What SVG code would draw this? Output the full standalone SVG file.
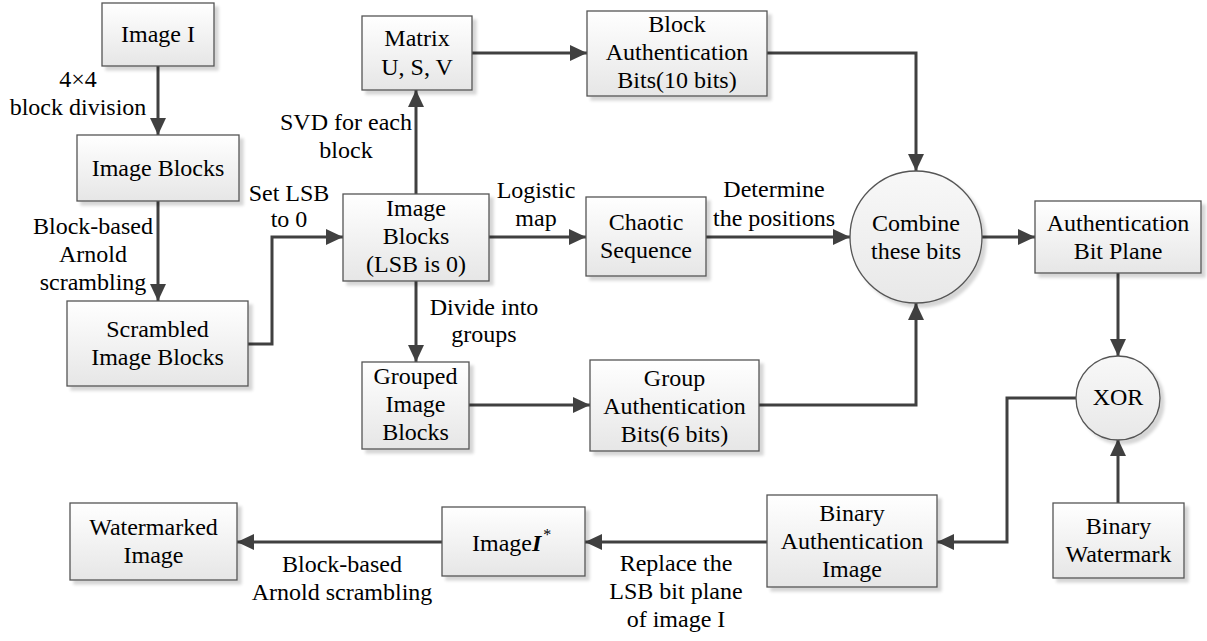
<svg xmlns="http://www.w3.org/2000/svg" width="1207" height="641" viewBox="0 0 1207 641">
<defs>
<linearGradient id="g" x1="0" y1="0" x2="0" y2="1">
<stop offset="0" stop-color="#ffffff"/>
<stop offset="1" stop-color="#e6e6e6"/>
</linearGradient>
<linearGradient id="gc" x1="0" y1="0" x2="0" y2="1">
<stop offset="0" stop-color="#f8f8f8"/>
<stop offset="1" stop-color="#e8e8e8"/>
</linearGradient>
<filter id="sh" x="-10%" y="-10%" width="130%" height="130%">
<feDropShadow dx="4" dy="4" stdDeviation="1.5" flood-color="#000" flood-opacity="0.16"/>
</filter>
<marker id="ar" markerUnits="userSpaceOnUse" markerWidth="18" markerHeight="18" refX="17" refY="8" orient="auto">
<path d="M0,0 L17,8 L0,16 z" fill="#404040"/>
</marker>
</defs>
<style>
.box{fill:url(#g);stroke:#555;stroke-width:1.3;filter:url(#sh)}
.cir{fill:url(#gc);stroke:#555;stroke-width:1.3;filter:url(#sh)}
.t{font-family:'Liberation Serif',Tinos,'Times New Roman',Times,'DejaVu Serif',serif;font-size:24px;fill:#000;text-anchor:middle}
.c{fill:none;stroke:#404040;stroke-width:3;marker-end:url(#ar)}
</style>
<g font-family="Liberation Serif, Tinos, Times New Roman, DejaVu Serif, serif">

<g id="connectors">
<path class="c" d="M158,66 V135"/>
<path class="c" d="M158,201 V301"/>
<path class="c" d="M248,344 H272 V237 H343"/>
<path class="c" d="M416,194 V90"/>
<path class="c" d="M472,53 H587"/>
<path class="c" d="M767,53 H916 V171"/>
<path class="c" d="M489,237 H586"/>
<path class="c" d="M706,237 H850"/>
<path class="c" d="M416,281 V362"/>
<path class="c" d="M469,405 H590"/>
<path class="c" d="M759,405 H916 V303"/>
<path class="c" d="M982,237 H1035"/>
<path class="c" d="M1118,273 V356"/>
<path class="c" d="M1118,503 V439"/>
<path class="c" d="M1076,398 H1007 V542 H937"/>
<path class="c" d="M767,542 H585"/>
<path class="c" d="M442,542 H237"/>
</g>

<g id="labels">
<text class="t" x="78" y="87">4×4</text>
<text class="t" x="78" y="115">block division</text>
<text class="t" x="93" y="234">Block-based</text>
<text class="t" x="93" y="262">Arnold</text>
<text class="t" x="93" y="290">scrambling</text>
<text class="t" x="289" y="201">Set LSB</text>
<text class="t" x="289" y="227">to 0</text>
<text class="t" x="346" y="130">SVD for each</text>
<text class="t" x="346" y="158">block</text>
<text class="t" x="536" y="198">Logistic</text>
<text class="t" x="536" y="226">map</text>
<text class="t" x="774" y="197">Determine</text>
<text class="t" x="774" y="226">the positions</text>
<text class="t" x="484" y="315">Divide into</text>
<text class="t" x="484" y="342">groups</text>
<text class="t" x="342" y="572">Block-based</text>
<text class="t" x="342" y="600">Arnold scrambling</text>
<text class="t" x="676" y="571">Replace the</text>
<text class="t" x="676" y="599">LSB bit plane</text>
<text class="t" x="676" y="627">of image I</text>
</g>

<g id="n-image-i">
<rect class="box" x="102" y="3" width="112" height="63"/>
<text class="t" x="158" y="42">Image I</text>
</g>
<g id="n-image-blocks">
<rect class="box" x="77" y="135" width="162" height="66"/>
<text class="t" x="158" y="176">Image Blocks</text>
</g>
<g id="n-scrambled">
<rect class="box" x="67" y="301" width="181" height="85"/>
<text class="t" x="157.5" y="337">Scrambled</text>
<text class="t" x="157.5" y="365">Image Blocks</text>
</g>
<g id="n-blocks-lsb">
<rect class="box" x="343" y="194" width="146" height="87"/>
<text class="t" x="416" y="216">Image</text>
<text class="t" x="416" y="244">Blocks</text>
<text class="t" x="416" y="272">(LSB is 0)</text>
</g>
<g id="n-matrix">
<rect class="box" x="362" y="16" width="110" height="74"/>
<text class="t" x="417" y="46">Matrix</text>
<text class="t" x="417" y="75">U, S, V</text>
</g>
<g id="n-block-auth">
<rect class="box" x="587" y="11" width="180" height="85"/>
<text class="t" x="677" y="32">Block</text>
<text class="t" x="677" y="60">Authentication</text>
<text class="t" x="677" y="88">Bits(10 bits)</text>
</g>
<g id="n-chaotic">
<rect class="box" x="586" y="197" width="120" height="79"/>
<text class="t" x="646" y="230">Chaotic</text>
<text class="t" x="646" y="258">Sequence</text>
</g>
<g id="n-combine">
<circle class="cir" cx="916" cy="237" r="66"/>
<text class="t" x="916" y="231">Combine</text>
<text class="t" x="916" y="259">these bits</text>
</g>
<g id="n-auth-plane">
<rect class="box" x="1035" y="201" width="166" height="72"/>
<text class="t" x="1118" y="231">Authentication</text>
<text class="t" x="1118" y="259">Bit Plane</text>
</g>
<g id="n-grouped">
<rect class="box" x="362" y="362" width="107" height="87"/>
<text class="t" x="415.5" y="384">Grouped</text>
<text class="t" x="415.5" y="412">Image</text>
<text class="t" x="415.5" y="440">Blocks</text>
</g>
<g id="n-group-auth">
<rect class="box" x="590" y="360" width="169" height="91"/>
<text class="t" x="674.5" y="386">Group</text>
<text class="t" x="674.5" y="414">Authentication</text>
<text class="t" x="674.5" y="442">Bits(6 bits)</text>
</g>
<g id="n-xor">
<circle class="cir" cx="1118" cy="398" r="42"/>
<text class="t" x="1118" y="405">XOR</text>
</g>
<g id="n-binary-watermark">
<rect class="box" x="1053" y="503" width="131" height="75"/>
<text class="t" x="1118.5" y="534">Binary</text>
<text class="t" x="1118.5" y="562">Watermark</text>
</g>
<g id="n-binary-auth">
<rect class="box" x="767" y="495" width="170" height="92"/>
<text class="t" x="852" y="521">Binary</text>
<text class="t" x="852" y="549">Authentication</text>
<text class="t" x="852" y="577">Image</text>
</g>
<g id="n-image-istar">
<rect class="box" x="442" y="507" width="143" height="69"/>
<text class="t" x="472" y="551" style="text-anchor:start">Image<tspan font-weight="bold" font-style="italic">I</tspan><tspan font-size="16" dy="-11" dx="2">*</tspan></text>
</g>
<g id="n-watermarked">
<rect class="box" x="70" y="503" width="167" height="77"/>
<text class="t" x="153.5" y="535">Watermarked</text>
<text class="t" x="153.5" y="563">Image</text>
</g>
</g>
</svg>
